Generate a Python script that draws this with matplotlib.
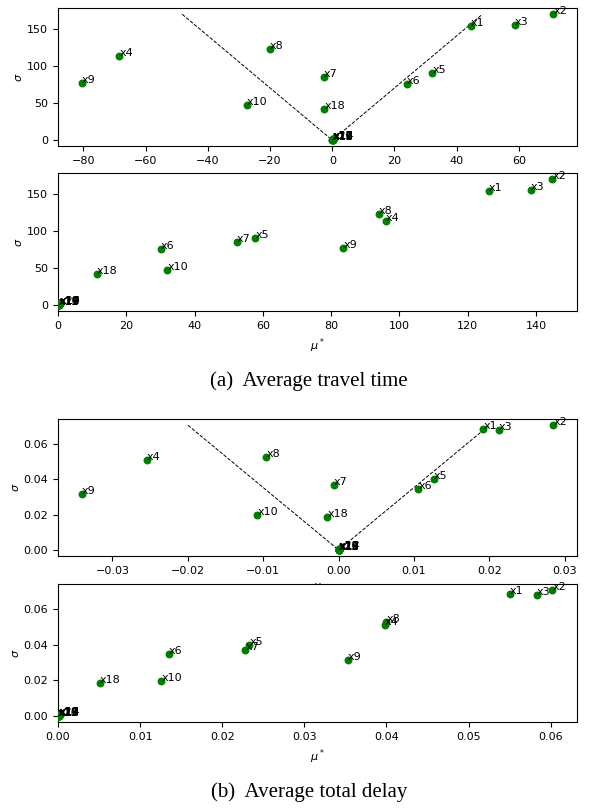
import numpy as np
import matplotlib
matplotlib.use('Agg')
import matplotlib.pyplot as plt

names = ['x1', 'x2', 'x3', 'x4', 'x5', 'x6', 'x7', 'x8', 'x9', 'x10',
         'x11', 'x12', 'x13', 'x14', 'x15', 'x16', 'x17', 'x18', 'x19', 'x20']

# (a) average travel time
tt_mu = [44.6, 71.1, 58.8, -68.5, 32.2, 23.9, -2.8, -20.0, -80.6, -27.5,
         0.1, 0.2, 0.0, 0.3, 0.1, 0.0, 0.2, -2.5, 0.1, 0.2]
tt_mu_star = [126.2, 144.8, 138.6, 96.1, 57.8, 30.2, 52.3, 93.9, 83.6, 32.0,
              0.3, 0.4, 0.2, 0.5, 0.3, 0.2, 0.4, 11.4, 0.3, 0.4]
tt_sigma = [154.5, 170.6, 155.8, 114.3, 91.2, 75.9, 85.4, 123.7, 76.8, 47.8,
            0.8, 1.0, 0.6, 1.2, 0.8, 0.6, 1.0, 42.8, 0.8, 1.0]

# (b) average total delay
td_mu = [0.0192, 0.0285, 0.0213, -0.0254, 0.0126, 0.0106, -0.0006, -0.0096, -0.0341, -0.0108,
         0.0000, 0.0000, 0.0000, 0.0001, 0.0000, 0.0000, 0.0001, -0.0015, 0.0000, 0.0000]
td_mu_star = [0.0550, 0.0602, 0.0583, 0.0398, 0.0233, 0.0135, 0.0228, 0.0400, 0.0353, 0.0126,
              0.0001, 0.0001, 0.0000, 0.0002, 0.0001, 0.0000, 0.0001, 0.0051, 0.0001, 0.0001]
td_sigma = [0.0688, 0.0707, 0.0679, 0.0510, 0.0401, 0.0346, 0.0371, 0.0526, 0.0316, 0.0199,
            0.0002, 0.0003, 0.0001, 0.0003, 0.0002, 0.0001, 0.0002, 0.0185, 0.0002, 0.0003]

num_resamples = 50
captions = ['(a)  Average travel time', '(b)  Average total delay']

W, H = 589, 811
fig = plt.figure(figsize=(W/100, H/100), dpi=100)

def box(top, bottom, left=58, right=577):
	return [left/W, 1-bottom/H, (right-left)/W, (bottom-top)/H]

def covariance(ax, mu, sigma):
	ax.scatter(mu, sigma, c='g', s=22, zorder=3)
	for n, x, y in zip(names, mu, sigma):
		ax.annotate(n, (x, y), fontsize=8, zorder=4)
	ymax = max(sigma)
	xl = 2*ymax/np.sqrt(num_resamples)
	ax.plot([-xl, 0, xl], [ymax, 0, ymax], 'k--', lw=0.7, zorder=2)
	ax.set_xlabel(r'$\mu$', fontsize=8)
	ax.set_ylabel(r'$\sigma$', fontsize=8, labelpad=2)
	ax.tick_params(labelsize=8)

def mustar(ax, mu_star, sigma):
	ax.scatter(mu_star, sigma, c='g', s=22, zorder=3)
	for n, x, y in zip(names, mu_star, sigma):
		ax.annotate(n, (x, y), fontsize=8, zorder=4)
	ax.set_xlim(left=0)
	ax.set_xlabel(r'$\mu^*$', fontsize=8)
	ax.set_ylabel(r'$\sigma$', fontsize=8, labelpad=2)
	ax.tick_params(labelsize=8)

ax1 = fig.add_axes(box(8, 146))
covariance(ax1, tt_mu, tt_sigma)
ax2 = fig.add_axes(box(173, 311))
mustar(ax2, tt_mu_star, tt_sigma)
ax1.set_ylim(ax2.get_ylim())

ax3 = fig.add_axes(box(419, 556))
covariance(ax3, td_mu, td_sigma)
ax4 = fig.add_axes(box(584, 722))
mustar(ax4, td_mu_star, td_sigma)
ax3.set_ylim(ax4.get_ylim())

fig.text(309/W, 1-381/H, captions[0], ha='center', va='center',
         fontsize=15, family='Liberation Serif')
fig.text(309/W, 1-792/H, captions[1], ha='center', va='center',
         fontsize=15, family='Liberation Serif')

fig.savefig('out.png', dpi=100)
